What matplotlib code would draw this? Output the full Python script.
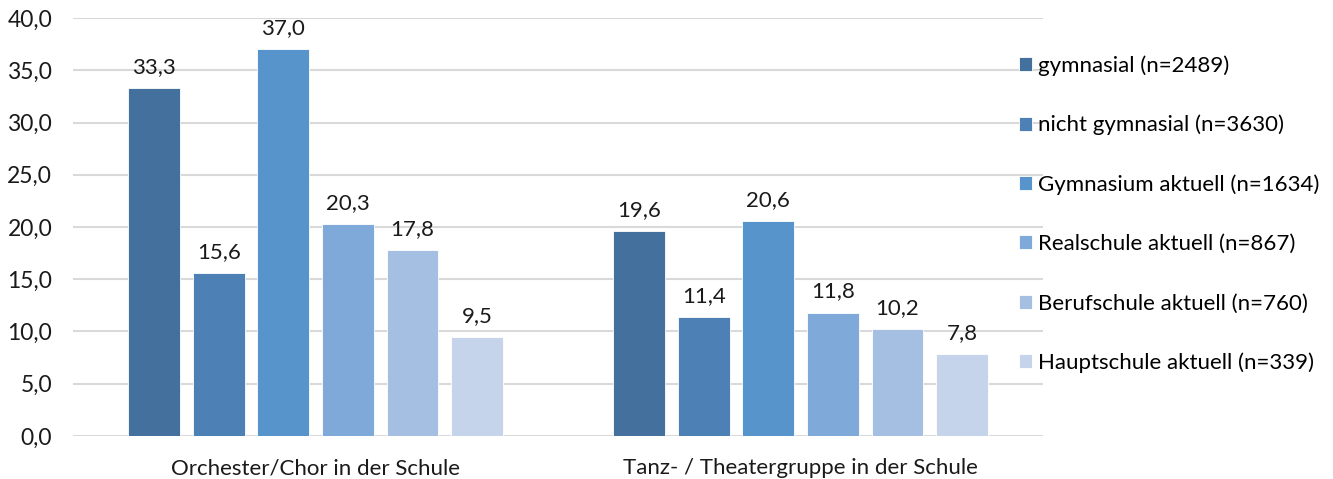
import matplotlib.pyplot as plt
import numpy as np

# data
categories = ["Orchester/Chor in der Schule", "Tanz- / Theatergruppe in der Schule"]
series = ["gymnasial (n=2489)", "nicht gymnasial (n=3630)", "Gymnasium aktuell (n=1634)",
          "Realschule aktuell (n=867)", "Berufschule aktuell (n=760)", "Hauptschule aktuell (n=339)"]
values = [
    [33.3, 19.6],
    [15.6, 11.4],
    [37.0, 20.6],
    [20.3, 11.8],
    [17.8, 10.2],
    [9.5, 7.8],
]
colors = ["#44709D", "#4D80B5", "#5794CB", "#7EA9D8", "#A5BFE3", "#C5D4EA"]
yticks = [0, 5, 10, 15, 20, 25, 30, 35, 40]

plt.rcParams['font.family'] = ['Lato', 'DejaVu Sans']

fig = plt.figure(figsize=(13.33, 4.79), dpi=100)
ax = fig.add_axes([0.0548, 0.0898, 0.7277, 0.8726])

x = np.arange(len(categories))
pitch = 0.1332
width = 0.107
for i, (name, vals) in enumerate(zip(series, values)):
    offs = (i - 2.5) * pitch
    ax.bar(x + offs, vals, width, color=colors[i], label=name,
           edgecolor="white", linewidth=0.6, zorder=3)
    for xi, v in zip(x + offs, vals):
        ax.annotate(f"{v:.1f}".replace(".", ","), (xi, v), xytext=(0, 8),
                    textcoords="offset points", ha="center", va="bottom",
                    fontsize=16, color="#1a1a1a")

ax.set_xlim(-0.5, 1.5)
ax.set_ylim(0, 40)
ax.set_yticks(yticks)
ax.set_yticklabels([f"{t:.1f}".replace(".", ",") for t in yticks], fontsize=16.5, color="#1a1a1a")
ax.set_xticks(x)
ax.set_xticklabels(categories, fontsize=16, color="#1a1a1a")
ax.tick_params(axis="y", length=0, pad=15)
ax.tick_params(axis="x", length=0, pad=16)
ax.yaxis.grid(True, color="#D9D9D9", linewidth=1.5, zorder=0)
ax.set_axisbelow(True)
for s in ax.spines.values():
    s.set_visible(False)

fig.legend(loc="center left", bbox_to_anchor=(0.7645, 0.553), frameon=False,
           fontsize=16, handlelength=0.59, handleheight=0.59, handletextpad=0.25,
           labelspacing=1.76, borderaxespad=0, borderpad=0)

fig.savefig("out.png", dpi=100)
